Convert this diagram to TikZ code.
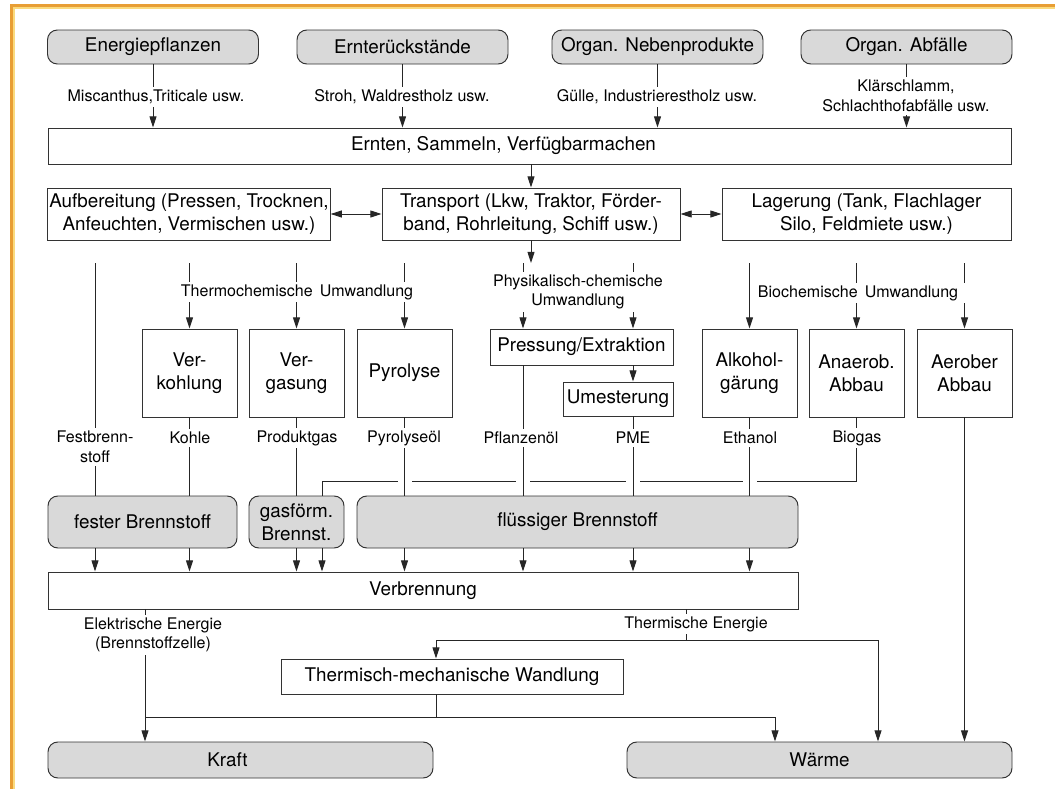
\documentclass[tikz,border=0pt]{standalone}
\usepackage{fontspec}
\setmainfont{TeX Gyre Heros}
\usepackage{tikz}
\usetikzlibrary{shapes, arrows.meta, positioning, calc}

\definecolor{frameorange}{RGB}{232,158,52}
\definecolor{framepale}{RGB}{250,218,125}
\definecolor{boxgray}{RGB}{217,217,217}

\newcommand{\bigtext}{\fontsize{13.4}{16.2}\selectfont}
\newcommand{\smalltext}{\fontsize{11.4}{14}\selectfont}

\tikzset{Size/.style 2 args={minimum width=#1*0.025cm, minimum height=#2*0.025cm}}

\begin{document}
\begin{tikzpicture}
  [
    x=0.025cm, y=-0.025cm,
    Box/.style={rectangle, draw=black!80, fill=white, line width=0.7pt, align=center, inner sep=1pt, font=\bigtext},
    Gray/.style={Box, fill=boxgray, rounded corners=7pt},
    Label/.style={fill=white, inner xsep=5pt, inner ysep=2pt, align=center, font=\smalltext},
    Line/.style={draw=black!85, line width=0.7pt},
    Arrow/.style={Line, -{Triangle[length=8pt, width=5pt]}},
    Both/.style={Line, {Triangle[length=8pt, width=5pt]}-{Triangle[length=8pt, width=5pt]}}
  ]
  % Frame
  \useasboundingbox (0,0) rectangle (1055,789);
  \fill[white] (0,0) rectangle (1055,789);
  \draw[framepale, line width=1.6pt] (13.8,789) -- (13.8,7.8) -- (1055,7.8);
  \draw[frameorange, line width=1.9pt] (11.3,789) -- (11.3,5.3) -- (1055,5.3);

  % Nodes
  \node[Gray, Size={211}{34}] (energie) at(153, 47) {Energiepflanzen};
  \node[Gray, Size={211}{34}] (ernte) at(402.5, 47) {Ernterückstände};
  \node[Gray, Size={211}{34}] (neben) at(657.5, 47) {Organ. Nebenprodukte};
  \node[Gray, Size={211}{34}] (abfall) at(906.5, 47) {Organ. Abfälle};

  \node[Box, Size={963}{36}] (ernten) at(529.5, 146) {Ernten, Sammeln, Verfügbarmachen\hspace*{1.3cm}};

  \node[Box, Size={282}{52}] (aufb) at(189, 214) {Aufbereitung (Pressen, Trocknen,\\Anfeuchten, Vermischen usw.)};
  \node[Box, Size={298}{52}] (transport) at(531, 214) {Transport (Lkw, Traktor, Förder-\\band, Rohrleitung, Schiff usw.)};
  \node[Box, Size={289}{52}] (lager) at(866.5, 214) {Lagerung (Tank, Flachlager\\Silo, Feldmiete usw.)};

  \node[Box, Size={95}{88}] (verkohlung) at(189.5, 373) {Ver-\\kohlung};
  \node[Box, Size={95}{88}] (vergasung) at(296.5, 373) {Ver-\\gasung};
  \node[Box, Size={95}{88}] (pyrolyse) at(404.5, 373) {Pyrolyse};
  \node[Box, Size={183}{36}] (pressung) at(581.5, 347) {Pressung/Extraktion};
  \node[Box, Size={110}{34}] (umester) at(618, 399) {Umesterung};
  \node[Box, Size={95}{88}] (alkohol) at(749.5, 373) {Alkohol-\\gärung};
  \node[Box, Size={95}{88}] (anaerob) at(856.5, 373) {Anaerob.\\Abbau};
  \node[Box, Size={95}{88}] (aerob) at(964.5, 373) {Aerober\\Abbau};

  \node[Gray, Size={189}{52}] (fest) at(142.5, 522) {fester Brennstoff};
  \node[Gray, Size={95}{52}] (gas) at(296.5, 522) {gasförm.\\Brennst.};
  \node[Gray, Size={441}{52}] (fluessig) at(577.5, 522) {flüssiger Brennstoff};

  \node[Box, Size={750}{37}] (verbrennung) at(423, 590.5) {Verbrennung};
  \node[Box, Size={342}{35}] (tm) at(452, 676.5) {Thermisch-mechanische Wandlung};
  \node[Gray, Size={385}{36}] (kraft) at(240.5, 760) {Kraft\hspace*{0.65cm}};
  \node[Gray, Size={385}{36}] (waerme) at(819.5, 760) {Wärme};

  % Columns and rows of the connectors
  \coordinate (xfest) at (95, 0);
  \coordinate (xbio) at (322, 0);
  \coordinate (xoel) at (523, 0);
  \coordinate (xpme) at (633, 0);
  \coordinate (xel) at (145, 0);
  \coordinate (xtm) at (436, 0);
  \coordinate (xtherm) at (686, 0);
  \coordinate (xmech) at (775, 0);
  \coordinate (xth) at (878, 0);
  \coordinate (ytop) at (0, 263);
  \coordinate (ybio) at (0, 481);
  \coordinate (ytherm) at (0, 640);
  \coordinate (ymech) at (0, 717);

  % Lines
  \foreach \src in {energie, ernte, neben, abfall}
    \path [Arrow] (\src.south) -- (ernten.north -| \src.south);
  \path [Arrow] (ernten.south -| transport.north) -- (transport.north);
  \path [Both] (aufb.east) -- (transport.west);
  \path [Both] (transport.east) -- (lager.west);
  \path [Arrow] (transport.south) -- (transport.south |- ytop);

  \foreach \proc in {verkohlung, vergasung, pyrolyse, alkohol, anaerob, aerob}
    \path [Arrow] (\proc.north |- ytop) -- (\proc.north);
  \foreach \col in {xoel, xpme}
    \path [Arrow] (\col |- ytop) -- (pressung.north -| \col);
  \path [Line] (xfest |- ytop) -- (fest.north -| xfest);
  \path [Arrow] (pressung.south -| xpme) -- (umester.north -| xpme);

  \path [Line] (anaerob.south) -- (anaerob.south |- ybio) -- (xbio |- ybio) -- (gas.north -| xbio);
  \foreach \col in {pyrolyse, xoel, xpme, alkohol}
    \path [draw=white, line width=3pt] ($(\col |- ybio)+(-7,0)$) -- ($(\col |- ybio)+(7,0)$);

  \foreach \proc/\fuel in {verkohlung/fest, vergasung/gas, pyrolyse/fluessig, alkohol/fluessig}
    \path [Line] (\proc.south) -- (\fuel.north -| \proc.south);
  \path [Line] (pressung.south -| xoel) -- (fluessig.north -| xoel);
  \path [Line] (umester.south -| xpme) -- (fluessig.north -| xpme);
  \path [Arrow] (aerob.south) -- (waerme.north -| aerob.south);

  \foreach \fuel/\col in {fest/xfest, fest/verkohlung, gas/vergasung, gas/xbio, fluessig/pyrolyse, fluessig/xoel, fluessig/xpme, fluessig/alkohol}
    \path [Arrow] (\fuel.south -| \col) -- (verbrennung.north -| \col);

  \path [Arrow] (verbrennung.south -| xel) -- (kraft.north -| xel);
  \path [Line] (verbrennung.south -| xtherm) -- (xtherm |- ytherm);
  \path [Arrow] (xtherm |- ytherm) -| (tm.north -| xtm);
  \path [Arrow] (xtherm |- ytherm) -| (waerme.north -| xth);
  \path [Line] (tm.south -| xtm) |- (xel |- ymech);
  \path [Arrow] (tm.south -| xtm) |- (xmech |- ymech) -- (waerme.north -| xmech);

  % Labels
  \node[Label] (miscanthus) at(156, 97) {Miscanthus,Triticale usw.};
  \node[Label] (stroh) at(402, 97) {Stroh, Waldrestholz usw.};
  \node[Label] (guelle) at(657, 97) {Gülle, Industrierestholz usw.};
  \node[Label] (klaer) at(906, 96) {Klärschlamm,\\Schlachthofabfälle usw.};
  \node[Label] (thermo) at(297, 292) {Thermochemische\hspace{.45em}Umwandlung};
  \node[Label] (physik) at(578, 292) {Physikalisch-chemische\\Umwandlung};
  \node[Label] (bio) at(858, 293) {Biochemische\hspace{.45em}Umwandlung};
  \node[Label] (festbr) at(95, 447) {Festbrenn-\\stoff};
  \node[Label] (kohle) at(190, 438) {Kohle};
  \node[Label] (produktgas) at(297, 438) {Produktgas};
  \node[Label] (pyroel) at(404, 438) {Pyrolyseöl};
  \node[Label] (pflanzenoel) at(521, 438) {Pflanzenöl};
  \node[Label] (pme) at(633, 438) {PME};
  \node[Label] (ethanol) at(750, 438) {Ethanol};
  \node[Label] (biogas) at(857, 438) {Biogas};
  \node[Label] (elektrisch) at(153, 635) {Elektrische Energie\\(Brennstoffzelle)};
  \node[Label] (thermisch) at(696, 624) {Thermische Energie};

\end{tikzpicture}
\end{document}
